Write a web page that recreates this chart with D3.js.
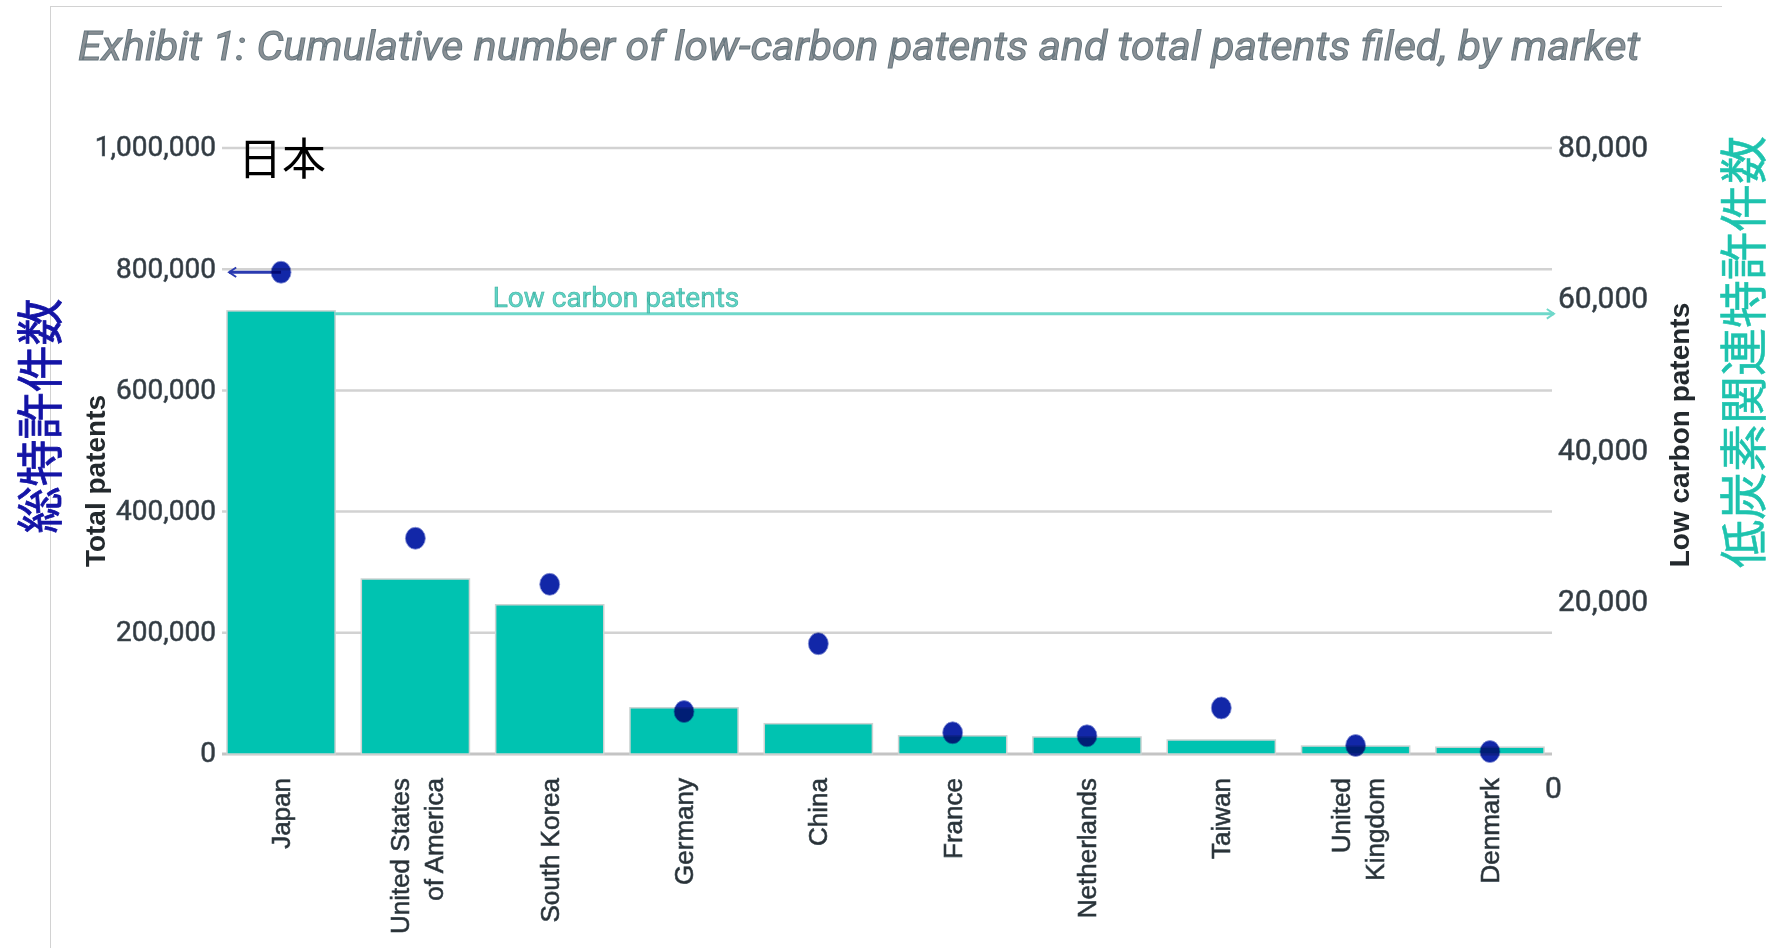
<!DOCTYPE html>
<html>
<head>
<meta charset="utf-8">
<script src="https://cdn.jsdelivr.net/npm/d3@7"></script>
<style>
  html, body { margin: 0; padding: 0; background: #fff; }
  svg { display: block; }
</style>
</head>
<body>
<svg id="chart" width="1774" height="948"></svg>
<script>
// ---- data ----
const categories = ["Japan", "United States of America", "South Korea", "Germany", "China",
                    "France", "Netherlands", "Taiwan", "United Kingdom", "Denmark"];
const categoryLines = [["Japan"], ["United States", "of America"], ["South Korea"], ["Germany"], ["China"],
                       ["France"], ["Netherlands"], ["Taiwan"], ["United", "Kingdom"], ["Denmark"]];
const lowCarbonPatents = [58500, 23100, 19700, 6100, 4000, 2400, 2250, 1850, 1050, 900];
const totalPatents = [795000, 356000, 280000, 70000, 182000, 35000, 30000, 76000, 14000, 4000];
const leftTicks = [0, 200000, 400000, 600000, 800000, 1000000];
const rightTicks = [0, 20000, 40000, 60000, 80000];
const titleText = "Exhibit 1: Cumulative number of low-carbon patents and total patents filed, by market";
const leftTitle = "Total patents";
const rightTitle = "Low carbon patents";
const leftTitleJa = "総特許件数";
const rightTitleJa = "低炭素関連特許件数";
const cornerJa = "日本";
const annotationText = "Low carbon patents";

// ---- setup ----
const svg = d3.select("#chart");
const fmt = d3.format(",");

const x = d3.scaleBand().domain(categories).range([227, 1544]).paddingInner(0.195).paddingOuter(0);
const yL = d3.scaleLinear().domain([0, 1000000]).range([754, 148]);
const yR = d3.scaleLinear().domain([0, 80000]).range([754, 148]);
const gridX0 = 222, gridX1 = 1552;

const tickFont = "Roboto, 'Liberation Sans', sans-serif";
const labelFont = "'Liberation Sans', Arial, sans-serif";
const cjkFont = "'Noto Sans CJK JP', 'Noto Sans CJK SC', sans-serif";

// frame
svg.append("line").attr("x1", 50).attr("x2", 1722).attr("y1", 6.5).attr("y2", 6.5)
  .attr("stroke", "#d2d2d2").attr("stroke-width", 1);
svg.append("line").attr("x1", 50.5).attr("x2", 50.5).attr("y1", 6).attr("y2", 948)
  .attr("stroke", "#d2d2d2").attr("stroke-width", 1);

// title
svg.append("text")
  .attr("x", 78).attr("y", 60)
  .attr("font-family", tickFont).attr("font-style", "italic").attr("font-size", 40)
  .attr("textLength", 1562).attr("lengthAdjust", "spacingAndGlyphs")
  .attr("fill", "#8a9095").attr("stroke", "#66767e").attr("stroke-width", 1)
  .text(titleText);

// gridlines (left axis ticks)
svg.append("g").selectAll("line").data(leftTicks).join("line")
  .attr("x1", gridX0).attr("x2", gridX1)
  .attr("y1", d => yL(d)).attr("y2", d => yL(d))
  .attr("stroke", d => d === 0 ? "#c4c4c4" : "#d2d2d2")
  .attr("stroke-width", d => d === 0 ? 3 : 2.5);

// left axis labels
const leftAxis = d3.axisLeft(yL).tickValues(leftTicks).tickFormat(fmt).tickSize(0).tickPadding(0);
const gL = svg.append("g").attr("transform", "translate(216,0)").call(leftAxis);
gL.select(".domain").remove();
gL.selectAll("text")
  .attr("font-family", tickFont).attr("font-size", 28)
  .attr("fill", "#33393e").attr("stroke", "#44535e").attr("stroke-width", 0.6)
  .attr("dy", "0.28em");

// right axis labels
const rightAxis = d3.axisRight(yR).tickValues(rightTicks).tickFormat(fmt).tickSize(0).tickPadding(0);
const gR = svg.append("g").attr("transform", "translate(1558,0)").call(rightAxis);
gR.select(".domain").remove();
gR.selectAll("text")
  .attr("font-family", tickFont).attr("font-size", 30)
  .attr("fill", "#33393e").attr("stroke", "#44535e").attr("stroke-width", 0.6)
  .attr("dy", "0.27em");
gR.selectAll(".tick").filter(d => d === 0).select("text")
  .attr("x", -13).attr("dy", "1.45em");

// bars (low carbon patents, right axis)
svg.append("g").selectAll("rect").data(categories).join("rect")
  .attr("x", d => x(d))
  .attr("width", x.bandwidth())
  .attr("y", (d, i) => yR(lowCarbonPatents[i]))
  .attr("height", (d, i) => yR(0) - yR(lowCarbonPatents[i]))
  .attr("fill", "#00c3b1")
  .attr("stroke", "#cdd3d2").attr("stroke-width", 1.5);

// annotation line for low carbon patents
const defs = svg.append("defs");
defs.append("marker").attr("id", "arrR").attr("viewBox", "0 0 10 10")
  .attr("refX", 8).attr("refY", 5).attr("markerWidth", 4).attr("markerHeight", 4)
  .attr("markerUnits", "strokeWidth").attr("orient", "auto")
  .append("path").attr("d", "M2,1 L8,5 L2,9").attr("fill", "none")
  .attr("stroke", "#6fd8ca").attr("stroke-width", 1.6);
defs.append("marker").attr("id", "arrL").attr("viewBox", "0 0 10 10")
  .attr("refX", 8).attr("refY", 5).attr("markerWidth", 4).attr("markerHeight", 4)
  .attr("markerUnits", "strokeWidth").attr("orient", "auto")
  .append("path").attr("d", "M2,1 L8,5 L2,9").attr("fill", "none")
  .attr("stroke", "#2a3ab0").attr("stroke-width", 1.6);

const annY = yR(lowCarbonPatents[0]) + 3;
svg.append("line")
  .attr("x1", x(categories[0]) + x.bandwidth()).attr("x2", 1554)
  .attr("y1", annY).attr("y2", annY)
  .attr("stroke", "#6fd8ca").attr("stroke-width", 3)
  .attr("marker-end", "url(#arrR)");
svg.append("text")
  .attr("x", 616).attr("y", annY - 7)
  .attr("text-anchor", "middle")
  .attr("font-family", tickFont).attr("font-size", 28)
  .attr("fill", "#5fd5c6").attr("stroke", "#3fae9f").attr("stroke-width", 0.6)
  .text(annotationText);

// arrow from Japan dot to the left axis
const jx = x(categories[0]) + x.bandwidth() / 2;
svg.append("line")
  .attr("x1", jx).attr("x2", 229)
  .attr("y1", yL(totalPatents[0])).attr("y2", yL(totalPatents[0]))
  .attr("stroke", "#2a3ab0").attr("stroke-width", 3)
  .attr("marker-end", "url(#arrL)");

// dots (total patents, left axis)
svg.append("g").selectAll("ellipse").data(categories).join("ellipse")
  .attr("cx", d => x(d) + x.bandwidth() / 2)
  .attr("cy", (d, i) => yL(totalPatents[i]))
  .attr("rx", 10).attr("ry", 11)
  .attr("fill", "#1227a8")
  .attr("stroke", "#8a96d8").attr("stroke-width", 0.8)
  .style("mix-blend-mode", "multiply");

// x labels
const xl = svg.append("g");
categories.forEach((c, i) => {
  const lines = categoryLines[i];
  const g = xl.append("g")
    .attr("transform", `translate(${x(c) + x.bandwidth() / 2 + (lines.length > 1 ? 2 : 0)},778) rotate(-90)`);
  lines.forEach((ln, j) => {
    g.append("text")
      .attr("x", 0).attr("y", (j - (lines.length - 1) / 2) * 34)
      .attr("dy", "0.35em")
      .attr("text-anchor", "end")
      .attr("font-family", labelFont).attr("font-size", 26)
      .attr("fill", "#2a3034").attr("stroke", "#34444e").attr("stroke-width", 0.6)
      .text(ln);
  });
});

// axis titles
svg.append("text")
  .attr("transform", "translate(95,481) rotate(-90)")
  .attr("text-anchor", "middle").attr("dy", "0.35em")
  .attr("font-family", labelFont).attr("font-size", 28).attr("font-weight", "bold")
  .attr("fill", "#23292d")
  .text(leftTitle);
svg.append("text")
  .attr("transform", "translate(1679,435) rotate(-90)")
  .attr("text-anchor", "middle").attr("dy", "0.35em")
  .attr("font-family", labelFont).attr("font-size", 28).attr("font-weight", "bold")
  .attr("fill", "#23292d")
  .text(rightTitle);

// Japanese titles
svg.append("text")
  .attr("transform", "translate(36,416) rotate(-90)")
  .attr("text-anchor", "middle").attr("dominant-baseline", "central")
  .attr("font-family", cjkFont).attr("font-size", 47)
  .attr("fill", "#1414a6").attr("stroke", "#1414a6").attr("stroke-width", 0.8)
  .text(leftTitleJa);
svg.append("text")
  .attr("transform", "translate(1740,352) rotate(-90)")
  .attr("text-anchor", "middle").attr("dominant-baseline", "central")
  .attr("font-family", cjkFont).attr("font-size", 48)
  .attr("fill", "#1ec3ae").attr("stroke", "#1ec3ae").attr("stroke-width", 0.5)
  .text(rightTitleJa);
svg.append("text")
  .attr("x", 238).attr("y", 156)
  .attr("dominant-baseline", "central")
  .attr("font-family", cjkFont).attr("font-size", 44)
  .attr("fill", "#000")
  .text(cornerJa);
</script>
</body>
</html>
